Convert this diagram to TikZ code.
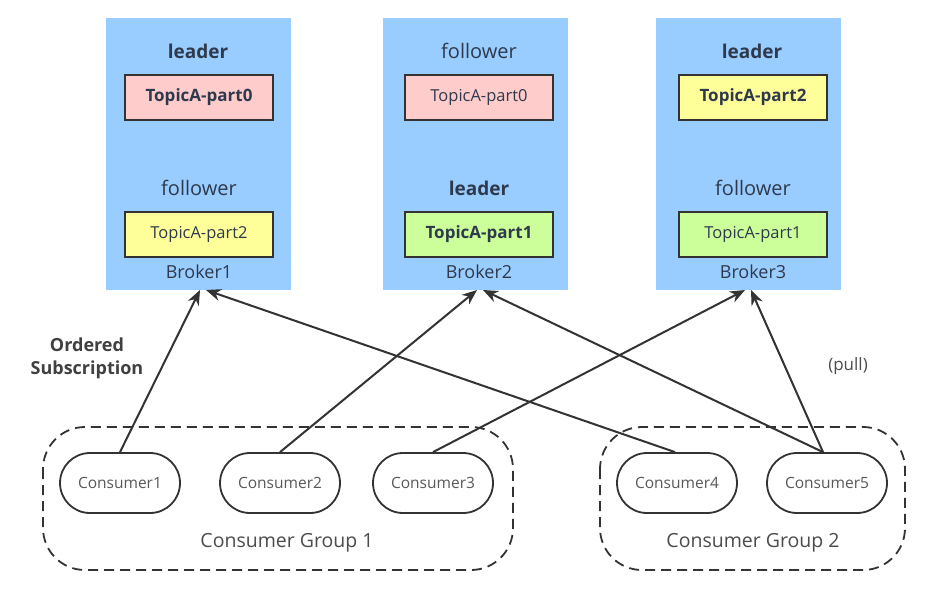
\documentclass[tikz,border=0pt]{standalone}
\usepackage{fontspec}
\setmainfont{Open Sans}
\usetikzlibrary{arrows.meta,shapes.misc}
\definecolor{brokerblue}{HTML}{99CCFF}
\definecolor{pinkp}{HTML}{FFCCCC}
\definecolor{yellowp}{HTML}{FFFF99}
\definecolor{greenp}{HTML}{CCFF99}
\definecolor{txt}{HTML}{2E3A4C}
\definecolor{ln}{HTML}{333333}
\tikzset{
  broker/.style={fill=brokerblue, draw=none, minimum width=185pt, minimum height=272pt, inner sep=0pt},
  part/.style={draw=ln, line width=1.8pt, minimum width=148pt, minimum height=45pt, inner sep=0pt, text=txt, font=\fontsize{16.5}{18}\selectfont},
  partb/.style={part, font=\fontsize{17}{18}\selectfont\bfseries},
  role/.style={text=txt, font=\fontsize{20}{22}\selectfont},
  roleb/.style={text=txt, font=\fontsize{19}{22}\selectfont\bfseries},
  blabel/.style={text=txt, font=\fontsize{18}{19}\selectfont},
  consumer/.style={draw=ln, line width=1.8pt, rounded rectangle, minimum width=120pt, minimum height=60pt, inner sep=0pt, text=black!65, font=\fontsize{15.5}{17}\selectfont},
  group/.style={draw=ln, line width=1.8pt, dashed, dash pattern=on 10pt off 6pt, rounded corners=42pt},
  conn/.style={draw=ln, line width=2pt, -{Stealth[length=15pt,width=12pt]}},
  lbl/.style={text=black!70, font=\fontsize{19.5}{21}\selectfont}
}
\begin{document}
\begin{tikzpicture}[x=1pt,y=-1pt]
\useasboundingbox (0,0) rectangle (936,595);
\fill[white] (0,0) rectangle (936,595);
% brokers
\node[broker] (b1) at (198.5,154) {};
\node[broker] (b2) at (475.5,154) {};
\node[broker] (b3) at (748.5,154) {};
% broker 1
\node[roleb] (b1r1) at (198,51) {leader};
\node[partb, fill=pinkp] (b1p0) at (199,97.5) {TopicA-part0};
\node[role] (b1r2) at (199,188) {follower};
\node[part, fill=yellowp] (b1p2) at (199,234.5) {TopicA-part2};
\node[blabel] (b1l) at (199,272) {Broker1};
% broker 2
\node[role] (b2r1) at (479,51) {follower};
\node[part, fill=pinkp] (b2p0) at (479,97.5) {TopicA-part0};
\node[roleb] (b2r2) at (479,188) {leader};
\node[partb, fill=greenp] (b2p1) at (479,234.5) {TopicA-part1};
\node[blabel] (b2l) at (479,272) {Broker2};
% broker 3
\node[roleb] (b3r1) at (752,51) {leader};
\node[partb, fill=yellowp] (b3p2) at (753,97.5) {TopicA-part2};
\node[role] (b3r2) at (753,188) {follower};
\node[part, fill=greenp] (b3p1) at (753,234.5) {TopicA-part1};
\node[blabel] (b3l) at (753,272) {Broker3};
% consumers
\node[consumer] (c1) at (120,483) {Consumer1};
\node[consumer] (c2) at (280,483) {Consumer2};
\node[consumer] (c3) at (433,483) {Consumer3};
\node[consumer] (c4) at (677,483) {Consumer4};
\node[consumer] (c5) at (827,483) {Consumer5};
% groups
\draw[group] (43,427) rectangle (513,570);
\draw[group] (600,427) rectangle (905,570);
\node[lbl] (g1) at (287,543) {Consumer Group 1};
\node[lbl] (g2) at (753,543) {Consumer Group 2};
% anchor coordinates
\coordinate (b1a) at (200,290);
\coordinate (b1b) at (206,290);
\coordinate (b2a) at (477,290);
\coordinate (b2b) at (483,290);
\coordinate (b3a) at (745,290);
\coordinate (b3b) at (751,290);
% connectors
\draw[conn] (c1.north) -- (b1a);
\draw[conn] (c4.north -| 675,0) -- (b1b);
\draw[conn] (c2.north) -- (b2a);
\draw[conn] (c5.north -| 823,0) -- (b2b);
\draw[conn] (c3.north) -- (b3a);
\draw[conn] (c5.north -| 823,0) -- (b3b);
% labels
\node[text=black!75, font=\fontsize{18}{23}\selectfont\bfseries, align=center] (os) at (87,358) {Ordered\\Subscription};
\node[text=black!70, font=\fontsize{17}{19}\selectfont] (pull) at (848,366) {(pull)};
\end{tikzpicture}
\end{document}
